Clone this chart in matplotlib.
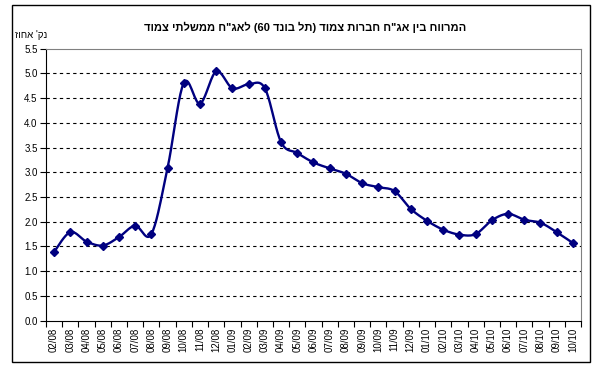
import matplotlib
matplotlib.use("Agg")
import matplotlib.pyplot as plt
import numpy as np
from matplotlib.patches import Rectangle

plt.rcParams['font.family'] = ['Liberation Sans', 'DejaVu Sans']

# month labels (mm/yy)
months = ['02/08', '03/08', '04/08', '05/08', '06/08', '07/08', '08/08', '09/08',
          '10/08', '11/08', '12/08', '01/09', '02/09', '03/09', '04/09', '05/09',
          '06/09', '07/09', '08/09', '09/09', '10/09', '11/09', '12/09', '01/10',
          '02/10', '03/10', '04/10', '05/10', '06/10', '07/10', '08/10', '09/10',
          '10/10']
spread = [1.39, 1.79, 1.60, 1.52, 1.69, 1.92, 1.75, 3.09,
          4.81, 4.39, 5.04, 4.70, 4.78, 4.70, 3.61, 3.39,
          3.20, 3.08, 2.97, 2.78, 2.70, 2.62, 2.26, 2.02,
          1.84, 1.74, 1.75, 2.03, 2.16, 2.04, 1.98, 1.79,
          1.57]
yticks = [0.0, 0.5, 1.0, 1.5, 2.0, 2.5, 3.0, 3.5, 4.0, 4.5, 5.0, 5.5]

# Hebrew strings are stored in visual (left-to-right) order since matplotlib has no bidi
title = 'דומצ יתלשממ ח"גאל (60 דנוב לת) דומצ תורבח ח"גא ןיב חוורמה'
ylab = "זוחא 'קנ"


def smooth(x, y, n=20):
    # Excel-like smoothed line (bezier through the points)
    x = np.asarray(x, float)
    y = np.asarray(y, float)
    px = np.concatenate([[x[0]], x, [x[-1]]])
    py = np.concatenate([[y[0]], y, [y[-1]]])
    t = np.linspace(0, 1, n)[:, None]
    xs, ys = [], []
    for i in range(1, len(x)):
        p0 = np.array([px[i], py[i]])
        p3 = np.array([px[i + 1], py[i + 1]])
        p1 = p0 + (p3 - np.array([px[i - 1], py[i - 1]])) / 6
        p2 = p3 - (np.array([px[i + 2], py[i + 2]]) - p0) / 6
        b = ((1 - t) ** 3) * p0 + 3 * ((1 - t) ** 2) * t * p1 + 3 * (1 - t) * t ** 2 * p2 + t ** 3 * p3
        xs.append(b[:, 0])
        ys.append(b[:, 1])
    return np.concatenate(xs), np.concatenate(ys)


fig = plt.figure(figsize=(6.02, 3.69), dpi=100)
ax = fig.add_axes([0.0764, 0.131, 0.8887, 0.737])

xi = np.arange(len(months))
sx, sy = smooth(xi, spread)
ax.plot(sx, sy, color='#000080', lw=1.7, zorder=3)
ax.plot(xi, spread, ls='none', marker='D', ms=4.5, color='#000080', zorder=4)

ax.set_xlim(-0.5, len(months) - 0.5)
ax.set_ylim(0, 5.5)
ax.set_yticks(yticks)
ax.set_yticklabels([f'{v:.1f}' for v in yticks], fontsize=7)
ax.set_xticks(xi)
ax.set_xticklabels(months, rotation=90, fontsize=7)
ax.set_xticks(np.arange(-0.5, len(months), 1), minor=True)
ax.tick_params(axis='x', which='major', length=0, pad=5)
ax.tick_params(axis='x', which='minor', length=4, direction='out', width=0.8)
ax.tick_params(axis='y', length=4, direction='out', width=0.8, pad=2)

for v in yticks[1:-1]:
    ax.axhline(v, color='black', lw=0.8, ls=(0, (3, 3)), zorder=1)

ax.spines['top'].set_color('#808080')
ax.spines['right'].set_color('#808080')
ax.spines['left'].set_color('black')
ax.spines['bottom'].set_color('black')
for s in ax.spines.values():
    s.set_linewidth(0.8)

fig.text(0.507, 0.927, title, ha='center', va='center', fontsize=8, fontweight='bold')
fig.text(0.025, 0.905, ylab, ha='left', va='center', fontsize=7)

fig.patches.append(Rectangle((12 / 602, 1 - 362 / 369), 578 / 602, 357 / 369,
                             transform=fig.transFigure, fill=False, ec='black', lw=1))

fig.savefig('out.png', dpi=100)
